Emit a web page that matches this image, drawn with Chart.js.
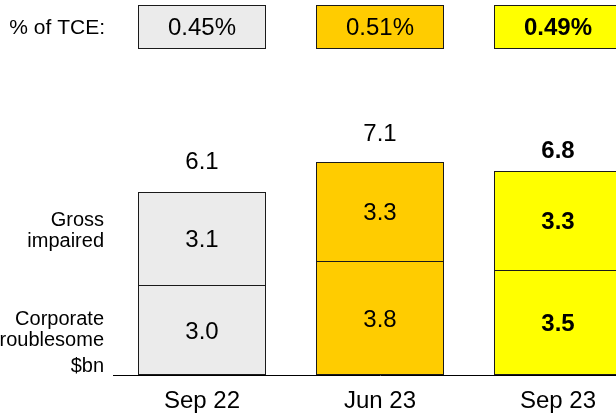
<!DOCTYPE html>
<html>
<head>
<meta charset="utf-8">
<script src="https://cdn.jsdelivr.net/npm/chart.js@4"></script>
<style>
  html, body { margin: 0; padding: 0; overflow: hidden; background: #fff; }
  #wrap { position: relative; width: 652px; height: 416px; }
</style>
</head>
<body>
<div id="wrap"><canvas id="chart" width="652" height="416"></canvas></div>
<script>
// Data
const periods = ['Sep 22', 'Jun 23', 'Sep 23'];
const corporateTroublesome = [3.0, 3.8, 3.5];
const grossImpaired = [3.1, 3.3, 3.3];
const totals = [6.1, 7.1, 6.8];
const pctOfTce = ['0.45%', '0.51%', '0.49%'];

// Styles
const barColours = ['#EBEBEB', '#FFCC00', '#FFFF00'];
const boldPeriod = [false, false, true];
const totalOffsets = [30, 28, 20];
const FONT = '"Liberation Sans", Arial, sans-serif';
const EDGE = '#1a1a1a';

function fontFor(i, size) {
  return (boldPeriod[i] ? 'bold ' : '') + size + 'px ' + FONT;
}

// Plugin para rótulos, caixas de % e textos laterais
const annotations = {
  id: 'annotations',
  afterDatasetsDraw(chart) {
    const ctx = chart.ctx;
    const lower = chart.getDatasetMeta(0).data;
    const upper = chart.getDatasetMeta(1).data;
    ctx.save();
    ctx.fillStyle = '#000';
    ctx.textAlign = 'center';
    ctx.textBaseline = 'middle';

    // valores dentro dos segmentos
    [lower, upper].forEach((bars, d) => {
      const values = d === 0 ? corporateTroublesome : grossImpaired;
      bars.forEach((el, i) => {
        ctx.font = fontFor(i, 24);
        ctx.fillText(values[i].toFixed(1), el.x, (el.y + el.base) / 2 + 2);
      });
    });

    // totais acima das barras e caixas de % of TCE
    upper.forEach((el, i) => {
      ctx.font = fontFor(i, 24);
      ctx.fillText(totals[i].toFixed(1), el.x, el.y - totalOffsets[i]);

      const left = Math.round(el.x - el.width / 2) + 0.5;
      const w = Math.round(el.width) - 1;
      ctx.fillStyle = barColours[i];
      ctx.fillRect(left, 5.5, w, 43);
      ctx.strokeStyle = EDGE;
      ctx.lineWidth = 1;
      ctx.strokeRect(left, 5.5, w, 43);
      ctx.fillStyle = '#000';
      ctx.fillText(pctOfTce[i], el.x, 28);
    });

    // textos à esquerda
    ctx.textAlign = 'right';
    ctx.font = '21px ' + FONT;
    ctx.fillText('% of TCE:', 105, 28);
    ctx.textBaseline = 'alphabetic';
    ctx.font = '20px ' + FONT;
    ctx.fillText('Gross', 104, 226);
    ctx.fillText('impaired', 104, 247);
    ctx.fillText('Corporate', 104, 325);
    ctx.fillText('troublesome', 104, 346);
    ctx.fillText('$bn', 104, 372);
    ctx.restore();
  }
};

const ctx = document.getElementById('chart').getContext('2d');
new Chart(ctx, {
  type: 'bar',
  data: {
    labels: periods,
    datasets: [
      {
        label: 'Corporate troublesome',
        data: corporateTroublesome,
        backgroundColor: barColours,
        borderColor: EDGE,
        borderWidth: 1,
        borderSkipped: false
      },
      {
        label: 'Gross impaired',
        data: grossImpaired,
        backgroundColor: barColours,
        borderColor: EDGE,
        borderWidth: 1,
        borderSkipped: 'bottom'
      }
    ]
  },
  options: {
    responsive: false,
    animation: false,
    layout: { padding: { left: 113, right: 5, top: 0, bottom: 0 } },
    datasets: { bar: { barPercentage: 128 / 178, categoryPercentage: 1 } },
    plugins: { legend: { display: false }, tooltip: { enabled: false } },
    scales: {
      x: {
        stacked: true,
        offset: true,
        grid: { display: false, drawTicks: true, tickLength: 12.2 },
        border: { display: true, color: '#000', width: 1 },
        ticks: { color: '#000', padding: 0, font: { family: FONT, size: 24 } }
      },
      y: {
        stacked: true,
        display: false,
        min: 0,
        max: 12.5
      }
    }
  },
  plugins: [annotations]
});
</script>
</body>
</html>
